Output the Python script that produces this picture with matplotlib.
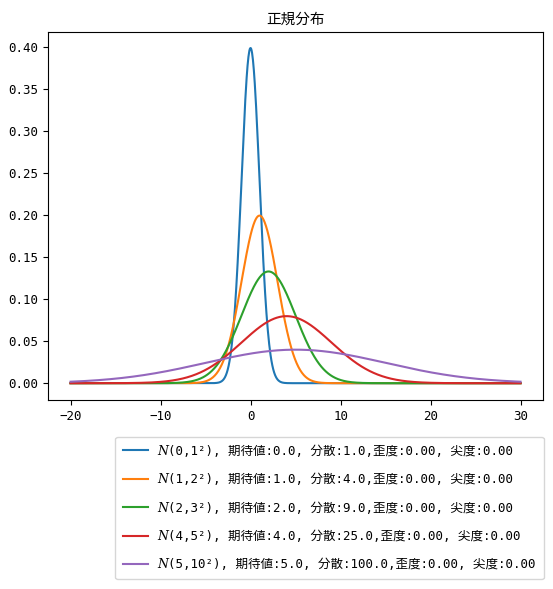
import numpy as np
import matplotlib
matplotlib.use("Agg")
import matplotlib.pyplot as plt
from matplotlib import font_manager, ft2font


def has_char(family, ch):
    try:
        path = font_manager.findfont(family, fallback_to_default=False)
        return ord(ch) in ft2font.FT2Font(path).get_charmap()
    except Exception:
        return False


ITALIC_N = '\U0001D441'
n_fams = [f for f in ['DejaVu Sans', 'DejaVu Serif', 'Noto Sans', 'Liberation Sans',
                      'Noto Sans CJK JP', 'Lato', 'Inter'] if has_char(f, ITALIC_N)]
n_char = ITALIC_N if n_fams else 'N'

fams = ['DejaVu Sans Mono', 'Noto Sans CJK JP'] + n_fams[:1]
plt.rcParams['font.family'] = fams
plt.rcParams['axes.unicode_minus'] = True

title = "正規分布"
mus = [0, 1, 2, 4, 5]
sigmas = [1, 2, 3, 5, 10]
x_min, x_max = -20, 30
skews = [0.0, 0.0, 0.0, 0.0, 0.0]
kurts = [0.0, 0.0, 0.0, 0.0, 0.0]

x = np.linspace(x_min, x_max, 1000)

fig = plt.figure(figsize=(5.53, 5.89), dpi=100)
ax = fig.add_axes([0.0868, 0.3209, 0.8952, 0.6248])

for mu, s, sk, ku in zip(mus, sigmas, skews, kurts):
    y = np.exp(-(x - mu) ** 2 / (2 * s ** 2)) / (np.sqrt(2 * np.pi) * s)
    label = (f"{n_char}({mu},{s}²), 期待値:{float(mu):.1f}, 分散:{float(s*s):.1f},"
             f"歪度:{sk:.2f}, 尖度:{ku:.2f}")
    ax.plot(x, y, lw=1.5, label=label)

ax.set_title(title, fontsize=10.5, family=['Noto Sans CJK JP'])
ax.set_yticks([0.0, 0.05, 0.10, 0.15, 0.20, 0.25, 0.30, 0.35, 0.40])
ax.set_yticklabels([f"{v:.2f}" for v in ax.get_yticks()])
ax.tick_params(labelsize=9)
ax.set_ylim(-0.02, 0.418)
ax.set_xlim(-22.5, 32.5)

fig.legend(loc='upper right', bbox_to_anchor=(0.995, 0.269), fontsize=9,
           handlelength=2.0, handletextpad=0.75, labelspacing=1.23, borderpad=0.64)

fig.savefig("out.png", dpi=100)
